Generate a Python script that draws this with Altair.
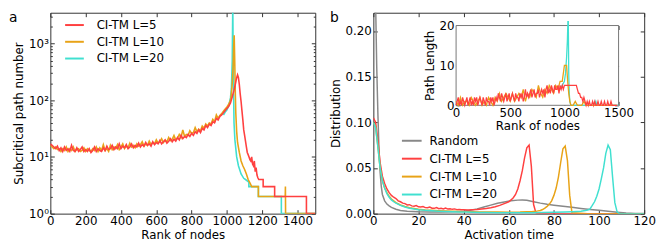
import altair as alt
import pandas as pd

# ---------------- Panel a: subcritical path number vs rank ----------------
A_NAMES = ["CI-TM L=5", "CI-TM L=10", "CI-TM L=20"]
A_COLORS = ["#ff4040", "#e8a317", "#40e0d0"]

a_noise_rank = list(range(0, 1001, 10))
a_red_noise = [17, 16, 15, 14, 15.5, 13, 14.5, 12.5, 15, 13,
               14, 12.5, 16, 13, 12.5, 14.5, 12.5, 13.5, 15, 12.5,
               13.5, 12.5, 14, 12, 13, 15, 12.5, 14, 13, 12.5,
               14.5, 13, 15.5, 13.5, 14, 16, 13.5, 15, 14, 17,
               14, 15.5, 14.5, 16.5, 14, 15, 17, 14.5, 16, 15,
               17.5, 15, 16.5, 15.5, 18, 16, 17, 15.5, 18.5, 16.5,
               18, 17, 19.5, 17, 18.5, 20, 17.5, 19, 21, 18.5,
               20.5, 19, 22, 20, 24, 21, 23, 22, 25, 23,
               26, 24, 28, 26, 30, 27, 32, 30, 36, 33,
               38, 36, 42, 40, 48, 45, 52, 55, 60, 66,
               72]
a_red_tail_rank = [1010, 1020, 1030, 1040, 1050, 1055, 1060, 1065, 1070, 1075,
                   1080, 1085, 1090, 1095, 1100, 1105, 1110, 1115, 1120, 1125,
                   1130, 1135, 1140, 1145, 1150, 1155, 1160, 1165, 1170, 1175,
                   1180, 1205, 1205, 1270, 1270, 1450, 1450, 1500]
a_red_tail_val = [78, 90, 115, 150, 210, 250, 280, 250, 190, 130,
                  95, 65, 45, 30, 24, 19, 15, 12, 11, 10,
                  9, 8.5, 10, 7.5, 7, 8.5, 5.5, 6.5, 4.8, 4.3,
                  4, 4, 3, 3, 2, 2, 1, 1]

a_orange_noise = [16, 15, 14, 15, 13.5, 14, 12.5, 14, 13, 15,
                  12.5, 14, 13, 15, 12.5, 13.5, 14, 12.5, 13, 14.5,
                  12.5, 14, 13, 12.5, 14, 13, 15, 12.5, 14.5, 13,
                  16.5, 13, 14, 12.5, 16, 13.5, 15, 14, 16.5, 13.5,
                  15, 17, 14, 15.5, 14.5, 17.5, 15, 16, 14.5, 17,
                  15.5, 16.5, 18.5, 15.5, 17, 16, 19, 16.5, 18, 17,
                  20, 17.5, 18.5, 21, 18, 19.5, 18.5, 22, 19.5, 20.5,
                  24, 20, 21.5, 25, 22, 30, 23, 25, 24, 29,
                  26, 27, 33, 28, 31, 29, 35, 32, 38, 35,
                  40, 38, 46, 42, 55, 48, 54, 58, 64, 70,
                  76]
a_orange_tail_rank = [1010, 1020, 1025, 1030, 1035, 1038, 1041, 1044, 1047, 1050,
                      1055, 1060, 1070, 1080, 1090, 1100, 1110, 1120, 1130, 1140,
                      1178, 1178, 1330, 1331, 1332, 1500]
a_orange_tail_val = [85, 100, 130, 200, 400, 900, 1400, 500, 150, 60,
                     28, 18, 12, 8.5, 7, 6, 5, 4, 3.5, 3,
                     3, 2, 2, 3, 1, 1]

a_cyan_rank = [980, 990, 1000, 1010, 1020, 1025, 1030, 1033, 1036, 1040,
               1045, 1055, 1065, 1080, 1095, 1105, 1124, 1124, 1178, 1178,
               1308, 1308, 1500]
a_cyan_val = [55, 62, 68, 80, 110, 160, 500, 5000, 300, 40,
              20, 10, 7, 5, 4.2, 4, 3.6, 3, 3, 2,
              2, 1, 1]

a_x_ticks = [0, 200, 400, 600, 800, 1000, 1200, 1400]
a_y_ticks = [1, 10, 100, 1000]
a_y_minor = [2, 3, 4, 5, 6, 7, 8, 9, 20, 30, 40, 50, 60, 70, 80, 90,
             200, 300, 400, 500, 600, 700, 800, 900, 2000, 3000]

# ---------------- Panel b: activation time distribution ----------------
B_NAMES = ["Random", "CI-TM L=5", "CI-TM L=10", "CI-TM L=20"]
B_COLORS = ["#888888", "#ff4040", "#e8a317", "#40e0d0"]

b_gray_t = [0, 1, 1.5, 2, 2.5, 3, 3.5, 4, 5, 6, 7, 8, 10, 12, 15, 20, 25, 30, 35, 40,
            43, 46, 49, 52, 55, 58, 61, 64, 66, 68, 71, 74, 77, 80, 84, 88, 92, 96, 100, 104,
            108, 112, 116, 120]
b_gray_v = [0.40, 0.23, 0.16, 0.11, 0.07, 0.045, 0.03, 0.021, 0.014, 0.0105,
            0.0085, 0.0068, 0.0048, 0.0035, 0.0026, 0.002, 0.0017, 0.0017, 0.002, 0.0027,
            0.0037, 0.0052, 0.0072, 0.0093, 0.0113, 0.0128, 0.014, 0.0148, 0.015, 0.0146,
            0.013, 0.0115, 0.0103, 0.0093, 0.0081, 0.0069, 0.0057, 0.0046, 0.0036, 0.0026,
            0.0016, 0.0008, 0.0003, 0.0001]

b_red_t = list(range(0, 41)) + [42, 44, 46, 48, 50, 52, 54, 56, 58, 60] + \
    list(range(61, 74)) + [80, 90, 100, 110, 120]
b_red_v = [0.105, 0.1, 0.08, 0.056, 0.041, 0.033, 0.027, 0.023, 0.02, 0.018,
           0.0165, 0.014, 0.013, 0.0115, 0.011, 0.0095, 0.0098, 0.0085, 0.0082, 0.0088,
           0.0075, 0.0072, 0.0078, 0.0066, 0.0064, 0.0071, 0.006, 0.0058, 0.0066, 0.0055,
           0.0058, 0.0052, 0.0062, 0.005, 0.0054, 0.0047, 0.0052, 0.0044, 0.0046, 0.0042,
           0.0043,
           0.004, 0.0042, 0.0045, 0.005, 0.0056, 0.0064, 0.0075, 0.009, 0.011, 0.013,
           0.015, 0.0175, 0.021, 0.027, 0.036, 0.047, 0.061, 0.072, 0.075, 0.052,
           0.01, 0.001, 0,
           0, 0, 0, 0, 0]

b_orange_t = [0, 1, 2, 3, 4, 5, 6, 7, 8, 9, 10, 12, 14, 16, 18, 20,
              23, 26, 29, 32, 35, 38, 41, 44, 47, 50, 55, 60, 65, 68, 70, 72,
              73, 74, 75, 76, 77, 78, 79, 80, 81, 82, 83, 84, 85, 86, 87, 88,
              95, 100, 110, 120]
b_orange_v = [0.1, 0.095, 0.074, 0.05, 0.036, 0.028, 0.023, 0.019, 0.016, 0.014, 0.012,
              0.0095, 0.0078, 0.0065, 0.0056, 0.0048,
              0.0041, 0.0036, 0.0032, 0.0029, 0.0026, 0.0024, 0.0022, 0.002, 0.0019, 0.0018,
              0.0017, 0.0015, 0.0017, 0.002, 0.0022, 0.0025,
              0.003, 0.0035, 0.0045, 0.006, 0.008, 0.0105, 0.014, 0.02, 0.028, 0.04,
              0.056, 0.071, 0.074, 0.058, 0.02, 0.001,
              0, 0, 0, 0]

b_cyan_t = [0, 1, 2, 3, 4, 5, 6, 7, 8, 9, 10, 12, 14, 16, 18, 20,
            23, 26, 29, 32, 35, 38, 41, 44, 47, 50, 55, 60, 65, 70, 75, 80, 85, 88, 90, 92, 94,
            95, 96, 97, 98, 99, 100, 101, 102, 103, 104, 105, 106, 107, 108, 109, 115, 120]
b_cyan_v = [0.1, 0.094, 0.073, 0.05, 0.036, 0.028, 0.022, 0.018, 0.015, 0.013, 0.0115,
            0.009, 0.0072, 0.006, 0.005, 0.0043,
            0.0036, 0.0031, 0.0027, 0.0024, 0.0021, 0.0019, 0.0017, 0.0015, 0.0013, 0.0012,
            0.001, 0.0009, 0.0009, 0.001, 0.0012, 0.0014, 0.0017, 0.002, 0.0023, 0.0027, 0.0034,
            0.004, 0.0052, 0.009, 0.013, 0.019, 0.027, 0.038, 0.05, 0.066, 0.075, 0.07, 0.04,
            0.012, 0.002, 0, 0, 0]

b_x_ticks = [0, 20, 40, 60, 80, 100, 120]
b_y_ticks = [0, 0.05, 0.10, 0.15, 0.20]

# ---------------- Inset: path length vs rank ----------------
in_red_rank = list(range(0, 1491, 10))
in_red_val = [0, 1, 2, 0, 1, 0, 2, 1, 0, 1,
              2, 0, 1, 2, 0, 1, 0, 2, 1, 2,
              0, 1, 2, 1, 0, 2, 1, 0, 2, 1,
              1, 0, 2, 1, 2, 0, 1, 2, 1, 3,
              2, 1, 3, 2, 1, 2, 3, 1, 2, 3,
              1, 2, 3, 2, 1, 3, 2, 2, 1, 3,
              2, 3, 1, 2, 4, 2, 3, 2, 3, 4,
              2, 3, 4, 2, 3, 3, 4, 2, 3, 4,
              3, 4, 2, 4, 5, 3, 4, 3, 5, 4,
              3, 5, 4, 4, 5, 3, 5, 4, 5, 4,
              5, 5, 5, 5, 5, 5, 5, 5, 5, 5,
              5, 5, 4, 3, 3, 2, 2, 1, 2, 1,
              0, 1, 0, 1, 0, 0, 1, 0, 1, 0,
              0, 1, 0, 0, 1, 0, 0, 1, 0, 0,
              1, 0, 0, 1, 0, 0, 0, 0, 0, 0]
in_orange_rank = list(range(0, 961, 20)) + [980, 990, 1000, 1010, 1020, 1030, 1040, 1050, 1060] + \
    list(range(1080, 1481, 20))
in_orange_val = [1, 0, 2, 0, 1, 1, 0, 2, 1, 0,
                 1, 2, 0, 1, 0, 2, 1, 0, 2, 1,
                 3, 1, 2, 3, 2, 1, 3, 1, 2, 3,
                 2, 4, 1, 3, 2, 4, 3, 2, 5, 3,
                 2, 4, 3, 5, 4, 3, 5, 4, 6,
                 6, 8, 10, 10, 10, 6, 3, 1, 0,
                 0, 1, 0, 0, 0, 1, 0, 0, 0, 0, 0, 0, 0, 0, 0, 0, 0, 0, 0, 0, 0]
in_cyan_rank = [960, 980, 1000, 1010, 1020, 1027, 1032, 1036, 1040, 1045, 1050, 1060,
                1080, 1100, 1280, 1290, 1300, 1400, 1500]
in_cyan_val = [4, 5, 6, 8, 12, 16, 21, 21, 8, 3, 1, 0,
               0, 0, 0, 1, 0, 0, 0]
in_x_ticks = [0, 500, 1000, 1500]
in_y_ticks = [0, 10, 20]

FONT = "DejaVu Sans"
W_A, W_B, H = 269, 275, 204
IN_L, IN_R, IN_T, IN_B = 84, 249, 13, 94


def frame(xs, ys, name):
    return pd.DataFrame({"x": xs, "y": ys, "series": name, "i": list(range(len(xs)))})


def carrier(df, xenc, yenc):
    return alt.Chart(df).mark_point(opacity=0, size=1).encode(x=xenc, y=yenc)


def tick_axis(orient, values, offset, size=4):
    return alt.Axis(orient=orient, values=values, labels=False, title=None,
                    offset=offset, tickSize=size)


# ---- panel a ----
df_a_red = frame(a_noise_rank + a_red_tail_rank, a_red_noise + a_red_tail_val, A_NAMES[0])
df_a_orange = frame(a_noise_rank + a_orange_tail_rank, a_orange_noise + a_orange_tail_val, A_NAMES[1])
df_a_cyan = frame(a_cyan_rank, a_cyan_val, A_NAMES[2])

sc_xa = alt.Scale(domain=[0, 1500], nice=False)
sc_ya = alt.Scale(type="log", domain=[1, 3500], nice=False)
xa = alt.X("x:Q", scale=sc_xa,
           axis=alt.Axis(values=a_x_ticks, format="d", title="Rank of nodes"))
ya = alt.Y("y:Q", scale=sc_ya,
           axis=alt.Axis(values=a_y_ticks, title="Subcritical path number",
                         labelExpr="datum.value == 1 ? '10⁰' : datum.value == 10 ? '10¹' : datum.value == 100 ? '10²' : '10³'"))
color_a = alt.Color("series:N", scale=alt.Scale(domain=A_NAMES, range=A_COLORS),
                    legend=alt.Legend(orient="none", legendX=14, legendY=2, title=None,
                                      symbolType="stroke", symbolSize=361, symbolStrokeWidth=2,
                                      labelFontSize=12, labelFont=FONT, labelOffset=12,
                                      rowPadding=0, padding=0))


def line_a(df):
    return alt.Chart(df).mark_line(clip=True, strokeWidth=1.6).encode(
        x=xa, y=ya, color=color_a, order="i:Q")


lab_a = alt.Chart(pd.DataFrame({"t": ["a"]})).mark_text(
    align="left", baseline="top", fontSize=14, font=FONT).encode(
    text="t:N", x=alt.value(-42), y=alt.value(-2))

panel_a = alt.layer(
    alt.layer(line_a(df_a_cyan), line_a(df_a_orange), line_a(df_a_red), lab_a),
    carrier(df_a_red, alt.X("x:Q", scale=sc_xa, axis=tick_axis("top", a_x_ticks, -4)),
            alt.Y("y:Q", scale=sc_ya, axis=tick_axis("right", a_y_ticks, -4))),
    carrier(df_a_red, alt.X("x:Q", scale=sc_xa, axis=None),
            alt.Y("y:Q", scale=sc_ya, axis=tick_axis("left", a_y_minor, -2, 2))),
    carrier(df_a_red, alt.X("x:Q", scale=sc_xa, axis=None),
            alt.Y("y:Q", scale=sc_ya, axis=tick_axis("right", a_y_minor, -2, 2))),
).resolve_axis(x="independent", y="independent").properties(width=W_A, height=H)

# ---- panel b ----
sc_xb = alt.Scale(domain=[0, 120], nice=False)
sc_yb = alt.Scale(domain=[0, 0.22], nice=False)
xb = alt.X("x:Q", scale=sc_xb,
           axis=alt.Axis(values=b_x_ticks, title="Activation time"))
yb = alt.Y("y:Q", scale=sc_yb,
           axis=alt.Axis(values=b_y_ticks, format=".2f", title="Distribution"))
color_b = alt.Color("series:N", scale=alt.Scale(domain=B_NAMES, range=B_COLORS),
                    legend=alt.Legend(orient="none", legendX=28, legendY=119, title=None,
                                      symbolType="stroke", symbolSize=400, symbolStrokeWidth=2,
                                      labelFontSize=12, labelFont=FONT, labelOffset=7,
                                      rowPadding=1.2, padding=0))


def line_b(df):
    return alt.Chart(df).mark_line(clip=True, strokeWidth=1.5).encode(
        x=xb, y=yb, color=color_b, order="i:Q")


df_b_red = frame(b_red_t, b_red_v, B_NAMES[1])
main_b = alt.layer(
    alt.layer(
        line_b(frame(b_gray_t, b_gray_v, B_NAMES[0])),
        line_b(df_b_red),
        line_b(frame(b_orange_t, b_orange_v, B_NAMES[2])),
        line_b(frame(b_cyan_t, b_cyan_v, B_NAMES[3])),
    ),
    carrier(df_b_red, alt.X("x:Q", scale=sc_xb, axis=tick_axis("top", b_x_ticks, -4)),
            alt.Y("y:Q", scale=sc_yb, axis=tick_axis("right", b_y_ticks, -4))),
).resolve_axis(x="independent", y="independent")

sc_xi = alt.Scale(domain=[0, 1500], range=[IN_L, IN_R], nice=False)
sc_yi = alt.Scale(domain=[0, 20], range=[IN_B, IN_T], nice=False)
xi = alt.X("x:Q", scale=sc_xi,
           axis=alt.Axis(values=in_x_ticks, format="d", title="Rank of nodes", orient="bottom",
                         offset=IN_B - 4 - H))
yi = alt.Y("y:Q", scale=sc_yi,
           axis=alt.Axis(values=in_y_ticks, title="Path Length", orient="left",
                         offset=-(IN_L + 4)))

inset_box = alt.Chart(pd.DataFrame({"x": [0], "x2": [1500], "y": [0], "y2": [20]})).mark_rect(
    fill="white", stroke="#777777", strokeWidth=1).encode(x=xi, x2="x2:Q", y=yi, y2="y2:Q")


def line_i(df, col):
    return alt.Chart(df).mark_line(clip=True, strokeWidth=1.3, color=col).encode(
        x=xi, y=yi, order="i:Q")


df_in_red = frame(in_red_rank, in_red_val, "r")
inset_b = alt.layer(
    alt.layer(
        inset_box,
        line_i(frame(in_cyan_rank, in_cyan_val, "c"), A_COLORS[2]),
        line_i(frame(in_orange_rank, in_orange_val, "o"), A_COLORS[1]),
        line_i(df_in_red, A_COLORS[0]),
    ),
    carrier(df_in_red, alt.X("x:Q", scale=sc_xi, axis=tick_axis("top", in_x_ticks, -(IN_T + 4))),
            alt.Y("y:Q", scale=sc_yi, axis=tick_axis("right", in_y_ticks, IN_R - 4 - W_B))),
).resolve_axis(x="independent", y="independent")

lab_b = alt.Chart(pd.DataFrame({"t": ["b"]})).mark_text(
    align="left", baseline="top", fontSize=14, font=FONT).encode(
    text="t:N", x=alt.value(-44), y=alt.value(-2))

panel_b = alt.layer(main_b, inset_b, lab_b).resolve_scale(
    x="independent", y="independent").properties(width=W_B, height=H)

chart = alt.hconcat(panel_a, panel_b, spacing=12).resolve_scale(
    color="independent").resolve_legend(color="independent").properties(
    padding=0).configure(font=FONT).configure_view(
    stroke="#333333", strokeWidth=1).configure_axis(
    labelFontSize=12, titleFontSize=12, titleFontWeight="normal",
    labelFont=FONT, titleFont=FONT, labelColor="black", titleColor="black",
    domain=False, grid=False, tickColor="#333333", tickSize=4, offset=-4,
    labelPadding=2, titlePadding=3, labelOverlap=False, labelFlush=False)

chart.save("out.html", embed_options={"renderer": "svg", "actions": False})
